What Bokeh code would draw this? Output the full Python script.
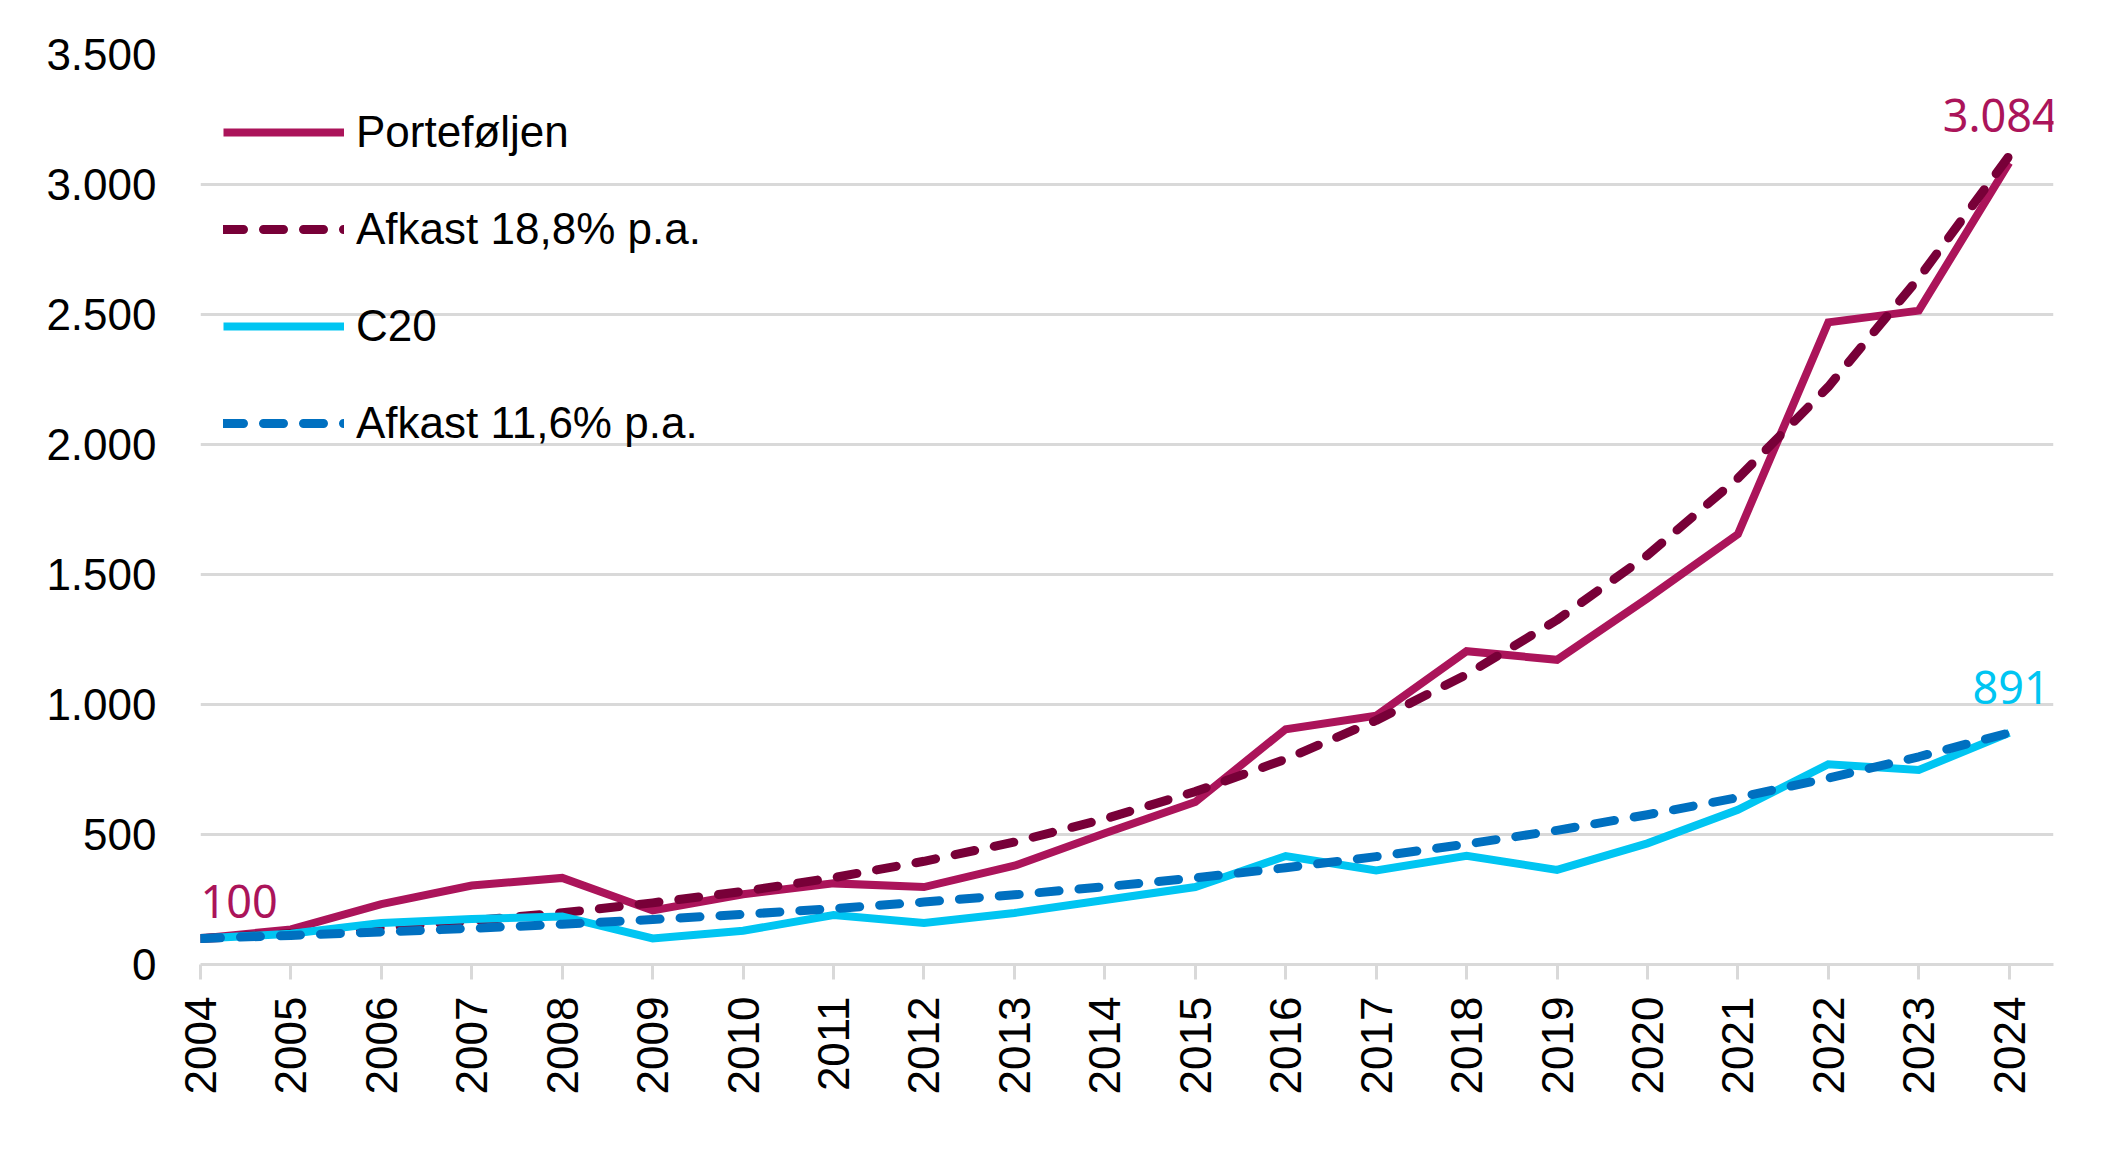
from bokeh.plotting import figure
from bokeh.models import (Range1d, FixedTicker, Legend, LegendItem, LabelSet,
                          ColumnDataSource)
from bokeh.core.properties import value
from bokeh.embed import file_html
from bokeh.resources import INLINE

# Indexed value (2004 = 100)
years = list(range(2004, 2025))
portfolio = [100, 135, 232, 304, 333, 208, 270, 312, 298, 380, 505, 625,
             905, 957, 1205, 1172, 1408, 1655, 2470, 2515, 3084]
portfolio_trend = [100, 119, 141, 168, 199, 237, 281, 334, 397, 471, 560,
                   665, 790, 939, 1115, 1325, 1574, 1870, 2222, 2640, 3110]
c20 = [100, 118, 160, 175, 185, 100, 130, 190, 160, 198, 248, 298,
       417, 362, 418, 364, 466, 595, 770, 748, 891]
c20_trend = [100, 112, 125, 139, 155, 173, 193, 215, 240, 268, 299, 333,
             372, 415, 463, 516, 576, 642, 717, 799, 891]

series_names = ["Porteføljen", "Afkast 18,8% p.a.", "C20", "Afkast 11,6% p.a."]
y_ticks = [0, 500, 1000, 1500, 2000, 2500, 3000, 3500]
y_tick_labels = ["0", "500", "1.000", "1.500", "2.000", "2.500", "3.000", "3.500"]

MAGENTA = "#AB145A"
MAROON = "#780038"
CYAN = "#00C5F2"
BLUE = "#0070C0"
GRID = "#D9D9D9"
FONT = "Liberation Sans"
LABEL_FONT = "Noto Sans"


def dk(v):
    return f"{v:,}".replace(",", ".")


p = figure(width=2116, height=1152, output_backend="svg", toolbar_location=None,
           x_range=Range1d(2004, 2024.49), y_range=Range1d(0, 3500),
           min_border_left=200, min_border_right=63, min_border_top=54,
           min_border_bottom=188)
p.outline_line_color = None
p.background_fill_color = "white"

# axes
p.xaxis.ticker = FixedTicker(ticks=years)
p.xaxis.major_label_orientation = 1.5707963
p.xaxis.major_label_text_font = FONT
p.xaxis.major_label_text_font_size = "44px"
p.xaxis.major_label_text_color = "#000000"
p.xaxis.axis_line_color = GRID
p.xaxis.axis_line_width = 3
p.xaxis.major_tick_line_color = GRID
p.xaxis.major_tick_line_width = 3
p.xaxis.major_tick_in = 0
p.xaxis.major_tick_out = 15
p.xaxis.minor_tick_line_color = None
p.xaxis.major_label_standoff = 17

p.yaxis.ticker = FixedTicker(ticks=y_ticks)
p.yaxis.major_label_overrides = dict(zip(y_ticks, y_tick_labels))
p.yaxis.major_label_text_font = FONT
p.yaxis.major_label_text_font_size = "44px"
p.yaxis.major_label_text_color = "#000000"
p.yaxis.axis_line_color = None
p.yaxis.major_tick_line_color = None
p.yaxis.minor_tick_line_color = None
p.yaxis.major_tick_out = 0
p.yaxis.major_label_standoff = 44

p.xgrid.grid_line_color = None
p.ygrid.grid_line_color = GRID
p.ygrid.grid_line_width = 3

r1 = p.line(years, portfolio, line_color=MAGENTA, line_width=8, line_join="miter")
r2 = p.line(years, portfolio_trend, line_color=MAROON, line_width=9,
            line_dash="20 20", line_cap="round", line_join="round")
r3 = p.line(years, c20, line_color=CYAN, line_width=8, line_join="miter")
r4 = p.line(years, c20_trend, line_color=BLUE, line_width=9,
            line_dash="20 20", line_cap="round", line_join="round")

legend = Legend(items=[LegendItem(label=n, renderers=[r])
                       for n, r in zip(series_names, [r1, r2, r3, r4])],
                location=(23, 515), glyph_width=121, glyph_height=52,
                label_height=52, label_standoff=12, spacing=45, padding=0,
                margin=0, border_line_color=None, background_fill_alpha=0,
                label_text_font=FONT, label_text_font_size="44px",
                label_text_color="#000000")
p.add_layout(legend, "center")

# value labels at the start and end points
lab_src = ColumnDataSource(dict(
    x=[years[0], years[-1], years[-1]],
    y=[portfolio[0], portfolio[-1], c20[-1]],
    text=[dk(portfolio[0]), dk(portfolio[-1]), dk(c20[-1])],
    color=[MAGENTA, MAGENTA, CYAN],
    align=["left", "center", "center"],
    xo=[0, -9, 2],
    yo=[21, 31, 29],
))
p.add_layout(LabelSet(x="x", y="y", text="text", source=lab_src,
                      text_color="color", text_align="align",
                      text_baseline="bottom", x_offset="xo", y_offset="yo",
                      text_font=value(LABEL_FONT), text_font_size="45px"))

open("out.html", "w").write(file_html(p, INLINE))
